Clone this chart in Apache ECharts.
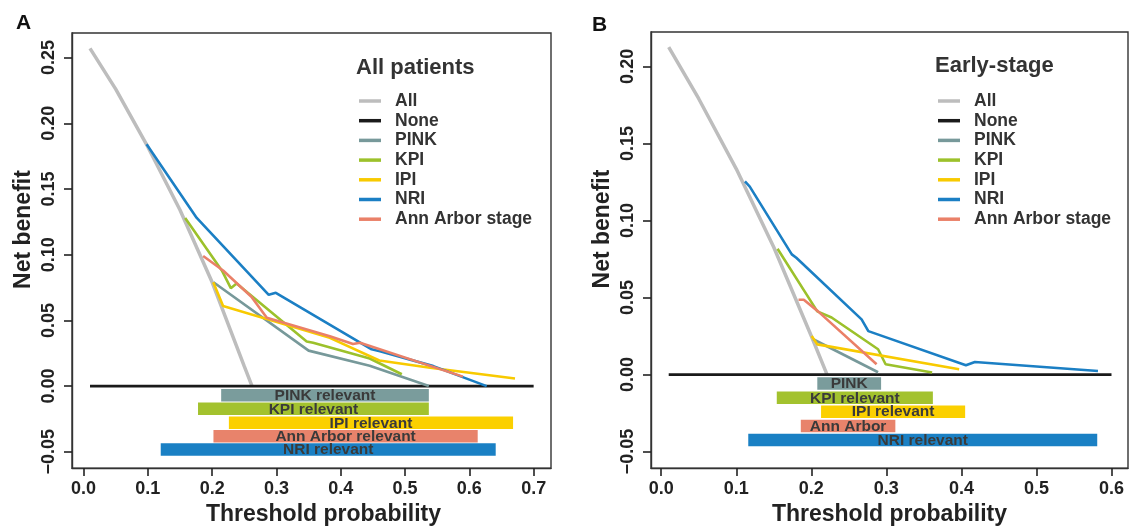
<!DOCTYPE html>
<html>
<head>
<meta charset="utf-8">
<script src="https://cdn.jsdelivr.net/npm/echarts@6/dist/echarts.min.js"></script>
<style>
  html, body { margin: 0; padding: 0; background: #fff; }
  #chart { width: 1130px; height: 531px; }
</style>
</head>
<body>
<div id="chart"></div>
<script>
// ---- data ----
const thresholdTicksA = [0, 0.1, 0.2, 0.3, 0.4, 0.5, 0.6, 0.7];
const benefitTicksA = [-0.05, 0, 0.05, 0.1, 0.15, 0.2, 0.25];
const thresholdTicksB = [0, 0.1, 0.2, 0.3, 0.4, 0.5, 0.6];
const benefitTicksB = [-0.05, 0, 0.05, 0.1, 0.15, 0.2];

// panel A: all patients
const allA = [[0.01, 0.257], [0.05, 0.226], [0.1, 0.182], [0.15, 0.134], [0.2, 0.079], [0.25, 0.015], [0.262, 0]];
const noneA = [[0.01, 0], [0.70, 0]];
const pinkA = [[0.202, 0.079], [0.35, 0.027], [0.445, 0.0155], [0.537, 0]];
const kpiA = [[0.158, 0.128], [0.215, 0.088], [0.229, 0.0745], [0.238, 0.078], [0.347, 0.034], [0.357, 0.033], [0.445, 0.021], [0.495, 0.009]];
const ipiA = [[0.2017, 0.079], [0.217, 0.061], [0.383, 0.0367], [0.46, 0.0195], [0.539, 0.0139], [0.671, 0.0058]];
const nriA = [[0.098, 0.184], [0.176, 0.128], [0.288, 0.0695], [0.299, 0.071], [0.448, 0.028], [0.461, 0.0265], [0.544, 0.0152], [0.627, 0]];
const annA = [[0.186, 0.099], [0.217, 0.088], [0.261, 0.068], [0.285, 0.052], [0.383, 0.038], [0.419, 0.032], [0.43, 0.033], [0.59, 0.0072]];

const barLabelsA = ['PINK relevant', 'KPI relevant', 'IPI relevant', 'Ann Arbor relevant', 'NRI relevant'];
const barStartA = [0.214, 0.178, 0.226, 0.202, 0.120];
const barEndA = [0.537, 0.537, 0.668, 0.613, 0.641];
const barLevelA = [-0.007, -0.0173, -0.0279, -0.0381, -0.0482];

// panel B: early-stage
const allB = [[0.01, 0.2125], [0.05, 0.179], [0.1, 0.1335], [0.15, 0.0826], [0.2, 0.025], [0.221, 0]];
const noneB = [[0.01, 0], [0.60, 0]];
const pinkB = [[0.2025, 0.0229], [0.289, 0.0015]];
const kpiB = [[0.155, 0.0816], [0.208, 0.041], [0.227, 0.037], [0.289, 0.0164], [0.299, 0.0067], [0.361, 0.0013]];
const ipiB = [[0.2005, 0.025], [0.208, 0.0196], [0.397, 0.0034]];
const nriB = [[0.1116, 0.1254], [0.118, 0.122], [0.174, 0.078], [0.18, 0.0758], [0.267, 0.0358], [0.276, 0.0282], [0.406, 0.006], [0.418, 0.0082], [0.582, 0.0023]];
const annB = [[0.183, 0.0485], [0.19, 0.0485], [0.209, 0.041], [0.287, 0.0067]];

const barLabelsB = ['PINK', 'KPI relevant', 'IPI relevant', 'Ann Arbor', 'NRI relevant'];
const barStartB = [0.208, 0.154, 0.213, 0.186, 0.116];
const barEndB = [0.293, 0.362, 0.405, 0.312, 0.581];
const barLevelB = [-0.0058, -0.0151, -0.0241, -0.0334, -0.0424];

const names = ['All', 'None', 'PINK', 'KPI', 'IPI', 'NRI', 'Ann Arbor stage'];
// ---- end data ----

const FONT = '"Liberation Sans", Arial, Helvetica, sans-serif';
const INK = '#333333';
const colors = {
  'All': '#bdbdbd', 'None': '#1a1a1a', 'PINK': '#77999a', 'KPI': '#9cc12b',
  'IPI': '#f8ca00', 'NRI': '#1b7fc4', 'Ann Arbor stage': '#ea8068'
};
const barColors = ['#7a9c9c', '#a3c22e', '#fbd000', '#e8836b', '#1a80c4'];

const chart = echarts.init(document.getElementById('chart'));

function xAxisFor(idx, min, max, ticks, shift) {
  return {
    type: 'value', gridIndex: idx, min: min, max: max,
    name: 'Threshold probability', nameLocation: 'middle', nameGap: 34,
    nameTextStyle: { fontFamily: FONT, fontWeight: 'bold', fontSize: 23, color: '#222', padding: shift },
    axisLine: { show: true, onZero: false, lineStyle: { color: '#333', width: 1.4 } },
    axisTick: { show: true, inside: false, length: 8, customValues: ticks, lineStyle: { color: '#222', width: 1.6 } },
    axisLabel: { customValues: ticks, margin: 12, fontFamily: FONT, fontWeight: 'bold', fontSize: 18, color: '#222',
      formatter: v => v.toFixed(1) },
    splitLine: { show: false }
  };
}

function yAxisFor(idx, min, max, ticks) {
  return {
    type: 'value', gridIndex: idx, min: min, max: max,
    name: 'Net benefit', nameLocation: 'middle', nameGap: 37,
    nameTextStyle: { fontFamily: FONT, fontWeight: 'bold', fontSize: 23, color: '#222', padding: [0, 0, 0, 42] },
    axisLine: { show: true, onZero: false, lineStyle: { color: '#333', width: 1.4 } },
    axisTick: { show: true, inside: false, length: 8, customValues: ticks, lineStyle: { color: '#222', width: 1.6 } },
    axisLabel: { customValues: ticks, rotate: 90, margin: 14, fontFamily: FONT, fontWeight: 'bold', fontSize: 18, color: '#222',
      formatter: v => (v < 0 ? '\u2212' + Math.abs(v).toFixed(2) : v.toFixed(2)) },
    splitLine: { show: false }
  };
}

function lineSeries(name, data, idx, width, z) {
  return {
    name: name, type: 'line', data: data, xAxisIndex: idx, yAxisIndex: idx,
    showSymbol: false, symbol: 'none', z: z,
    lineStyle: { color: colors[name], width: width },
    itemStyle: { color: colors[name] },
    emphasis: { disabled: true }
  };
}

function barSeries(idx, starts, ends, levels, labels) {
  return {
    type: 'custom', xAxisIndex: idx, yAxisIndex: idx, z: 5,
    data: starts.map((s, i) => [s, ends[i], levels[i]]),
    renderItem: function (params, api) {
      const y = api.value(2);
      const p0 = api.coord([api.value(0), y]);
      const p1 = api.coord([api.value(1), y]);
      const h = 12.5;
      return {
        type: 'group',
        children: [
          { type: 'rect', shape: { x: p0[0], y: p0[1] - h / 2, width: p1[0] - p0[0], height: h },
            style: { fill: barColors[params.dataIndex] } },
          { type: 'text', style: { text: labels[params.dataIndex], x: (p0[0] + p1[0]) / 2, y: p0[1] + 0.5,
            align: 'center', verticalAlign: 'middle', fill: '#3a3a3a', font: 'bold 15.5px ' + FONT } }
        ]
      };
    }
  };
}

function legendFor(left) {
  return {
    data: names, orient: 'vertical', left: left, top: 87, icon: 'rect',
    itemWidth: 22, itemHeight: 3.5, itemGap: 1.7, selectedMode: false,
    textStyle: { fontFamily: FONT, fontWeight: 'bold', fontSize: 17.5, lineHeight: 18, color: INK, padding: [0, 0, 0, 9] }
  };
}

const option = {
  animation: false,
  backgroundColor: '#fff',
  title: [
    { text: 'A', left: 11, top: 8, textStyle: { fontFamily: FONT, fontWeight: 'bold', fontSize: 21, color: '#111' } },
    { text: 'B', left: 587, top: 10, textStyle: { fontFamily: FONT, fontWeight: 'bold', fontSize: 21, color: '#111' } },
    { text: 'All patients', left: 351, top: 52, textStyle: { fontFamily: FONT, fontWeight: 'bold', fontSize: 22, color: INK } },
    { text: 'Early-stage', left: 930, top: 50, textStyle: { fontFamily: FONT, fontWeight: 'bold', fontSize: 22, color: INK } }
  ],
  legend: [legendFor(354), legendFor(933)],
  grid: [
    { left: 72, top: 33, width: 479, height: 436, show: true, borderColor: '#333', borderWidth: 1.4, backgroundColor: 'transparent' },
    { left: 651, top: 32, width: 477, height: 437, show: true, borderColor: '#333', borderWidth: 1.4, backgroundColor: 'transparent' }
  ],
  xAxis: [
    xAxisFor(0, -0.018, 0.727, thresholdTicksA, [0, 0, 0, 24]),
    xAxisFor(1, -0.0136, 0.622, thresholdTicksB, [0, 0, 0, 0])
  ],
  yAxis: [
    yAxisFor(0, -0.0624, 0.2687, benefitTicksA),
    yAxisFor(1, -0.0607, 0.2223, benefitTicksB)
  ],
  series: [
    lineSeries('All', allA, 0, 3.5, 2),
    lineSeries('None', noneA, 0, 2.8, 3),
    lineSeries('PINK', pinkA, 0, 2.6, 4),
    lineSeries('KPI', kpiA, 0, 2.6, 4),
    lineSeries('IPI', ipiA, 0, 2.6, 4),
    lineSeries('NRI', nriA, 0, 2.6, 4),
    lineSeries('Ann Arbor stage', annA, 0, 2.6, 4),
    barSeries(0, barStartA, barEndA, barLevelA, barLabelsA),
    lineSeries('All', allB, 1, 3.5, 2),
    lineSeries('None', noneB, 1, 2.8, 3),
    lineSeries('PINK', pinkB, 1, 2.6, 4),
    lineSeries('KPI', kpiB, 1, 2.6, 4),
    lineSeries('IPI', ipiB, 1, 2.6, 4),
    lineSeries('NRI', nriB, 1, 2.6, 4),
    lineSeries('Ann Arbor stage', annB, 1, 2.6, 4),
    barSeries(1, barStartB, barEndB, barLevelB, barLabelsB)
  ]
};

chart.setOption(option);
</script>
</body>
</html>
